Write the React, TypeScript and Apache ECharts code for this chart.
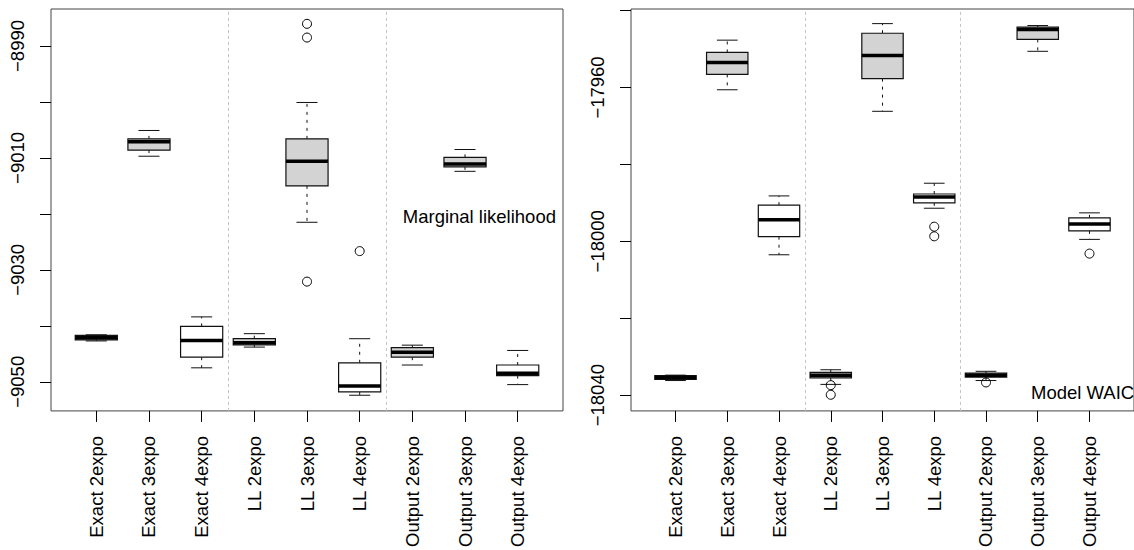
import React, { useEffect, useRef } from "react";
import * as echarts from "echarts";

const categories = [
  "Exact 2expo", "Exact 3expo", "Exact 4expo",
  "LL 2expo", "LL 3expo", "LL 4expo",
  "Output 2expo", "Output 3expo", "Output 4expo",
];
const boxFill = ["#D3D3D3", "#D3D3D3", "#FFFFFF", "#D3D3D3", "#D3D3D3", "#FFFFFF", "#D3D3D3", "#D3D3D3", "#FFFFFF"];

// Marginal likelihood panel
const mlLow = [-9042.7, -9009.7, -9047.5, -9043.8, -9021.5, -9052.4, -9047.0, -9012.4, -9050.5];
const mlQ1 = [-9042.5, -9008.6, -9045.6, -9043.4, -9015.0, -9051.8, -9045.6, -9011.6, -9048.9];
const mlMed = [-9042.15, -9007.1, -9042.6, -9043.0, -9010.6, -9050.75, -9044.7, -9011.1, -9048.45];
const mlQ3 = [-9041.7, -9006.6, -9040.1, -9042.3, -9006.6, -9046.6, -9043.9, -9009.9, -9047.0];
const mlHigh = [-9041.6, -9005.1, -9038.4, -9041.4, -9000.1, -9042.3, -9043.45, -9008.5, -9044.4];
const mlOutliers = [[5, -8986.05], [5, -8988.5], [5, -9032.1], [6, -9026.65]];
const mlTicks = [-9050, -9040, -9030, -9020, -9010, -9000, -8990];
const mlLabels = [-9050, -9030, -9010, -8990];

// Model WAIC panel
const wLow = [-18036.2, -17960.6, -18003.5, -18037.2, -17966.2, -17991.4, -18036.2, -17950.6, -17999.5];
const wQ1 = [-18035.9, -17956.6, -17998.8, -18035.5, -17957.7, -17990.0, -18035.3, -17947.5, -17997.3];
const wMed = [-18035.4, -17953.5, -17994.4, -18034.8, -17951.7, -17988.5, -18034.8, -17944.9, -17995.5];
const wQ3 = [-18034.9, -17950.9, -17990.6, -18034.1, -17945.9, -17987.7, -18034.25, -17944.3, -17993.9];
const wHigh = [-18034.8, -17947.7, -17988.2, -18033.4, -17943.4, -17984.9, -18033.8, -17943.9, -17992.6];
const wOutliers = [[4, -18037.4], [4, -18039.9], [6, -17996.2], [6, -17998.7], [7, -18036.7], [9, -18003.2]];
const wTicks = [-18040, -18020, -18000, -17980, -17960, -17940];
const wLabels = [-18040, -18000, -17960];

const separators = [3.5, 6.5];
const FONT = "Liberation Sans, Arial, Helvetica, sans-serif";
const FS = 18.5;

function boxData(lo: number[], q1: number[], med: number[], q3: number[], hi: number[]) {
  return categories.map((_, i) => [i + 1, lo[i], q1[i], med[i], q3[i], hi[i]]);
}

function renderBox(params: any, api: any) {
  const x = api.value(0);
  const lo = api.value(1), q1 = api.value(2), med = api.value(3), q3 = api.value(4), hi = api.value(5);
  const w = api.size([0.8, 0])[0];
  const cap = w / 2;
  const pLo = api.coord([x, lo]);
  const pQ1 = api.coord([x, q1]);
  const pMed = api.coord([x, med]);
  const pQ3 = api.coord([x, q3]);
  const pHi = api.coord([x, hi]);
  const cx = pLo[0];
  const stroke = "#111";
  return {
    type: "group",
    children: [
      { type: "line", shape: { x1: cx, y1: pQ3[1], x2: cx, y2: pHi[1] }, style: { stroke, lineWidth: 1, lineDash: [3, 5] } },
      { type: "line", shape: { x1: cx, y1: pQ1[1], x2: cx, y2: pLo[1] }, style: { stroke, lineWidth: 1, lineDash: [3, 5] } },
      { type: "line", shape: { x1: cx - cap / 2, y1: pHi[1], x2: cx + cap / 2, y2: pHi[1] }, style: { stroke, lineWidth: 1 } },
      { type: "line", shape: { x1: cx - cap / 2, y1: pLo[1], x2: cx + cap / 2, y2: pLo[1] }, style: { stroke, lineWidth: 1 } },
      { type: "rect", shape: { x: cx - w / 2, y: pQ3[1], width: w, height: pQ1[1] - pQ3[1] }, style: { fill: boxFill[params.dataIndex], stroke, lineWidth: 1.2 } },
      { type: "line", shape: { x1: cx - w / 2, y1: pMed[1], x2: cx + w / 2, y2: pMed[1] }, style: { stroke: "#000", lineWidth: 3.5 } },
    ],
  };
}

function xAxisCfg(gridIndex: number) {
  return {
    type: "value",
    gridIndex,
    min: 0.14,
    max: 9.86,
    axisLine: { show: false },
    splitLine: { show: false },
    axisTick: { show: true, length: 11, customValues: categories.map((_, i) => i + 1), lineStyle: { color: "#000" } },
    axisLabel: {
      customValues: categories.map((_, i) => i + 1),
      formatter: (v: number) => categories[Math.round(v) - 1] || "",
      rotate: 90,
      margin: 25,
      fontSize: FS,
      fontFamily: FONT,
      color: "#000",
    },
  };
}

function yAxisCfg(gridIndex: number, min: number, max: number, ticks: number[], labels: number[]) {
  return {
    type: "value",
    gridIndex,
    min,
    max,
    axisLine: { show: false },
    splitLine: { show: false },
    axisTick: { show: true, length: 11, customValues: ticks, lineStyle: { color: "#000" } },
    axisLabel: {
      customValues: labels,
      formatter: (v: number) => String(v).replace("-", "\u2212"),
      rotate: 90,
      margin: 24,
      fontSize: FS,
      fontFamily: FONT,
      color: "#000",
    },
  };
}

function sepLine() {
  return {
    silent: true,
    symbol: ["none", "none"],
    label: { show: false },
    lineStyle: { type: [3, 3], color: "#c4c4c4", width: 1 },
    emphasis: { disabled: true },
    data: separators.map((s) => ({ xAxis: s })),
  };
}

function outlierSeries(xi: number, data: number[][]) {
  return {
    type: "scatter", xAxisIndex: xi, yAxisIndex: xi,
    symbol: "circle", symbolSize: 9,
    itemStyle: { color: "rgba(0,0,0,0)", borderColor: "#000", borderWidth: 1, opacity: 1 },
    data,
    silent: true,
    markLine: sepLine(),
  };
}

export default function App() {
  const ref = useRef<HTMLDivElement>(null);
  useEffect(() => {
    const chart = echarts.init(ref.current!, null, { renderer: "svg" });
    chart.setOption({
      animation: false,
      backgroundColor: "#fff",
      grid: [
        { left: 51, top: 9, width: 512, height: 405, show: true, borderColor: "#444", borderWidth: 1, backgroundColor: "transparent" },
        { left: 631, top: 9, width: 512, height: 405, show: true, borderColor: "#444", borderWidth: 1, backgroundColor: "transparent" },
      ],
      xAxis: [xAxisCfg(0), xAxisCfg(1)],
      yAxis: [
        yAxisCfg(0, -9055.2, -8983.4, mlTicks, mlLabels),
        yAxisCfg(1, -18044.1, -17939.6, wTicks, wLabels),
      ],
      series: [
        {
          type: "custom", xAxisIndex: 0, yAxisIndex: 0,
          renderItem: renderBox,
          data: boxData(mlLow, mlQ1, mlMed, mlQ3, mlHigh),
          silent: true,
        },
        outlierSeries(0, mlOutliers),
        {
          type: "custom", xAxisIndex: 1, yAxisIndex: 1,
          renderItem: renderBox,
          data: boxData(wLow, wQ1, wMed, wQ3, wHigh),
          silent: true,
        },
        outlierSeries(1, wOutliers),
      ],
      graphic: [
        { type: "text", x: 556, y: 216, style: { text: "Marginal likelihood", fontSize: FS, fontFamily: FONT, fill: "#000", align: "right", verticalAlign: "middle" } },
        { type: "text", x: 1031, y: 392, style: { text: "Model WAIC", fontSize: FS, fontFamily: FONT, fill: "#000", align: "left", verticalAlign: "middle" } },
      ],
    });
    return () => chart.dispose();
  }, []);
  return <div ref={ref} style={{ position: "fixed", left: 0, top: 0, width: 1134, height: 550 }} />;
}
